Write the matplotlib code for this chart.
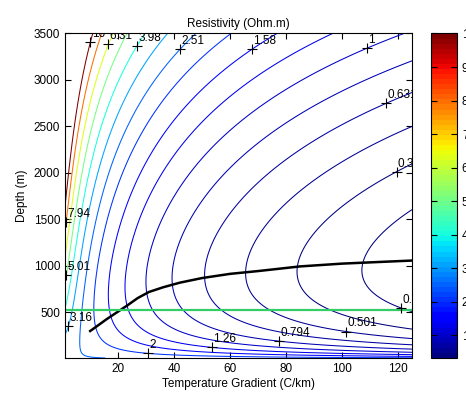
import numpy as np
import matplotlib
matplotlib.use("Agg")
import matplotlib.pyplot as plt
from matplotlib.colors import Normalize
from matplotlib.cm import ScalarMappable
from matplotlib.transforms import offset_copy

plt.rcParams['font.family'] = ['Liberation Sans', 'DejaVu Sans']

# contour levels (Ohm.m), as printed on the labels
levels = [0.316, 0.398, 0.501, 0.631, 0.794, 1, 1.26, 1.58, 2, 2.51,
          3.16, 3.98, 5.01, 6.31, 7.94, 10]

# resistivity model fitted to the contours in the picture
rho_surface = 2.56     # Ohm.m at z = 0
depth_scale = 1000.0   # m, porosity e-folding depth
temp_scale = 5100.0    # (C/km)*m, temperature term

gradient = np.linspace(1, 125, 249)     # C/km
depth = np.linspace(10, 3500, 350)      # m

# black curve
line_grad = [10, 13, 16, 19, 23, 27, 31, 36, 42, 50, 60, 70, 85, 100, 115, 125]
line_depth = [300, 365, 430, 490, 570, 655, 720, 770, 820, 870, 915, 945, 995,
              1025, 1045, 1058]

# green horizontal line
green_depth = 530

# contour label anchors
label_text = ['10', '6.31', '3.98', '2.51', '1.58', '1', '0.631', '0.398',
              '0.316', '0.501', '0.794', '1.26', '2', '3.16', '5.01', '7.94']
label_grad = [10.4, 16.6, 26.8, 42, 67.6, 108.7, 115.8, 120, 121.9, 101.6,
              77.5, 53.7, 30.4, 2.75, 1.3, 1.3]
label_depth = [3403, 3382, 3364, 3335, 3342, 3342, 2744, 1991, 611, 325,
               199, 134, 84, 342, 900, 1470]

G, Z = np.meshgrid(gradient, depth)
rho = rho_surface * np.exp(Z / depth_scale) / (1 + G * Z / temp_scale)

jet = plt.get_cmap('jet', 64)

fig = plt.figure(figsize=(4.66, 3.94), dpi=100)
ax = fig.add_axes([65 / 466, 1 - 358 / 394, 347 / 466, 324.5 / 394])
cax = fig.add_axes([431 / 466, 1 - 358 / 394, 26 / 466, 324.5 / 394])

norm = Normalize(vmin=levels[0], vmax=levels[-1])
cs = ax.contour(G, Z, rho, levels=levels, cmap=jet, norm=norm, linewidths=0.75)

ax.plot(line_grad, line_depth, color='black', lw=1.8)
ax.axhline(green_depth, color='#33cc66', lw=1.6)

# MATLAB-style '+' labels
paths = cs.get_paths()
gspan = gradient[-1] - gradient[0]
zspan = depth[-1] - depth[0]
txt_tr = offset_copy(ax.transData, fig=fig, x=1.0, y=1.5, units='points')
for s, gx, zy in zip(label_text, label_grad, label_depth):
    k = int(np.argmin([abs(lv - float(s)) for lv in levels]))
    v = paths[k].vertices
    if len(v) == 0:
        continue
    d = ((v[:, 0] - gx) / gspan) ** 2 + ((v[:, 1] - zy) / zspan) ** 2
    px, py = v[np.argmin(d)]
    ax.plot(px, py, marker='+', color='black', ms=7, mew=0.8)
    ax.text(px, py, s, transform=txt_tr, fontsize=8.5, ha='left',
            va='bottom', clip_on=True)

ax.set_xlim(1, 125)
ax.set_ylim(10, 3500)
ax.set_xticks([20, 40, 60, 80, 100, 120])
ax.set_yticks([500, 1000, 1500, 2000, 2500, 3000, 3500])
ax.tick_params(direction='in', top=True, right=True, labelsize=8.5, length=4)
ax.set_xlabel('Temperature Gradient (C/km)', fontsize=8.5, labelpad=2)
ax.set_ylabel('Depth (m)', fontsize=8.5, labelpad=4)
ax.set_title('Resistivity (Ohm.m)', fontsize=8.5, pad=5)

cb = fig.colorbar(ScalarMappable(norm=norm, cmap=jet), cax=cax,
                  ticks=range(1, 11))
cax.tick_params(direction='in', left=True, right=True, labelsize=8.5, length=4)

fig.savefig('out.png', dpi=100)
